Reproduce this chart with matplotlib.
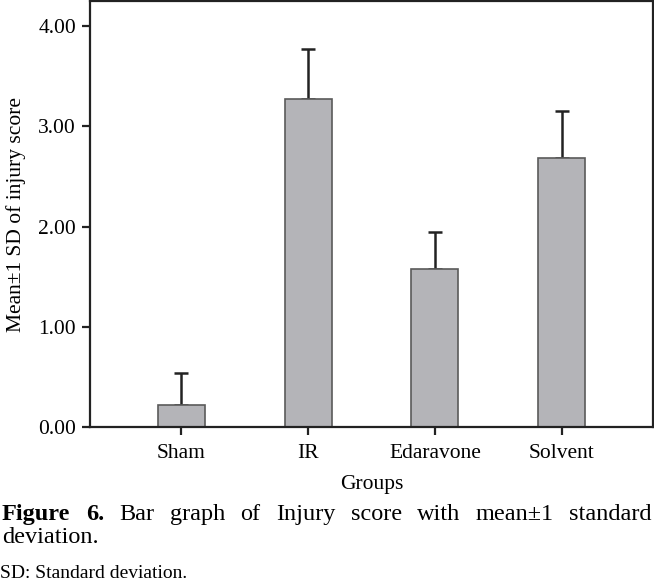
import matplotlib
matplotlib.use("Agg")
import matplotlib.pyplot as plt
import numpy as np

# data
groups = ["Sham", "IR", "Edaravone", "Solvent"]
means = [0.22, 3.27, 1.58, 2.68]
sds = [0.32, 0.50, 0.37, 0.47]
yticks = [0.0, 1.0, 2.0, 3.0, 4.0]

caption_words = [("Figure", "bold"), ("6.", "bold"), ("Bar", "normal"), ("graph", "normal"),
                 ("of", "normal"), ("Injury", "normal"), ("score", "normal"), ("with", "normal"),
                 ("mean±1", "normal"), ("standard", "normal")]
caption_line2 = "deviation."
footnote = "SD: Standard deviation."

plt.rcParams["font.family"] = ["Liberation Serif", "DejaVu Serif"]

W, H = 654, 581
fig = plt.figure(figsize=(W / 100, H / 100), dpi=100)
ax = fig.add_axes([90 / W, 1 - 427 / H, (653 - 90) / W, (427 - 1) / H])

x = np.arange(len(groups))
ax.bar(x, means, width=0.37, color="#b4b4b8", edgecolor="#5a5a5a", linewidth=1.2, zorder=2)
ax.errorbar(x, means, yerr=[np.zeros(len(sds)), sds], fmt="none", ecolor="#222222",
            elinewidth=1.8, capsize=5, capthick=1.8, zorder=1)

ax.set_xlim(-0.72, 3.72)
ax.set_ylim(0, 4.25)
ax.set_xticks(x)
ax.set_xticklabels(groups, fontsize=15.5)
ax.set_yticks(yticks)
ax.set_yticklabels(["%.2f" % v for v in yticks], fontsize=15.5)
ax.tick_params(direction="out", length=6, width=1.6, color="#222222")
ax.tick_params(axis="x", pad=6)
ax.tick_params(axis="y", pad=4)
for s in ax.spines.values():
    s.set_linewidth(1.6)
    s.set_color("#222222")

ax.set_xlabel("Groups", fontsize=15.5, labelpad=9)
ax.set_ylabel("Mean±1 SD of injury score", fontsize=15.5, labelpad=9)

# justified caption line
fig.canvas.draw()
renderer = fig.canvas.get_renderer()
y1 = 1 - 520 / H
texts = []
for w, weight in caption_words:
    t = fig.text(0, y1, w, fontsize=17.5, fontweight=weight, va="baseline", ha="left")
    texts.append(t)
widths = [t.get_window_extent(renderer).width for t in texts]
left, right = 2, 652
gap = (right - left - sum(widths)) / (len(texts) - 1)
pos = left
for t, wd in zip(texts, widths):
    t.set_x(pos / W)
    pos += wd + gap

fig.text(2 / W, 1 - 543 / H, caption_line2, fontsize=17.5, va="baseline", ha="left")
fig.text(0 / W, 1 - 578 / H, footnote, fontsize=14, va="baseline", ha="left")

fig.savefig("out.png", dpi=100)
